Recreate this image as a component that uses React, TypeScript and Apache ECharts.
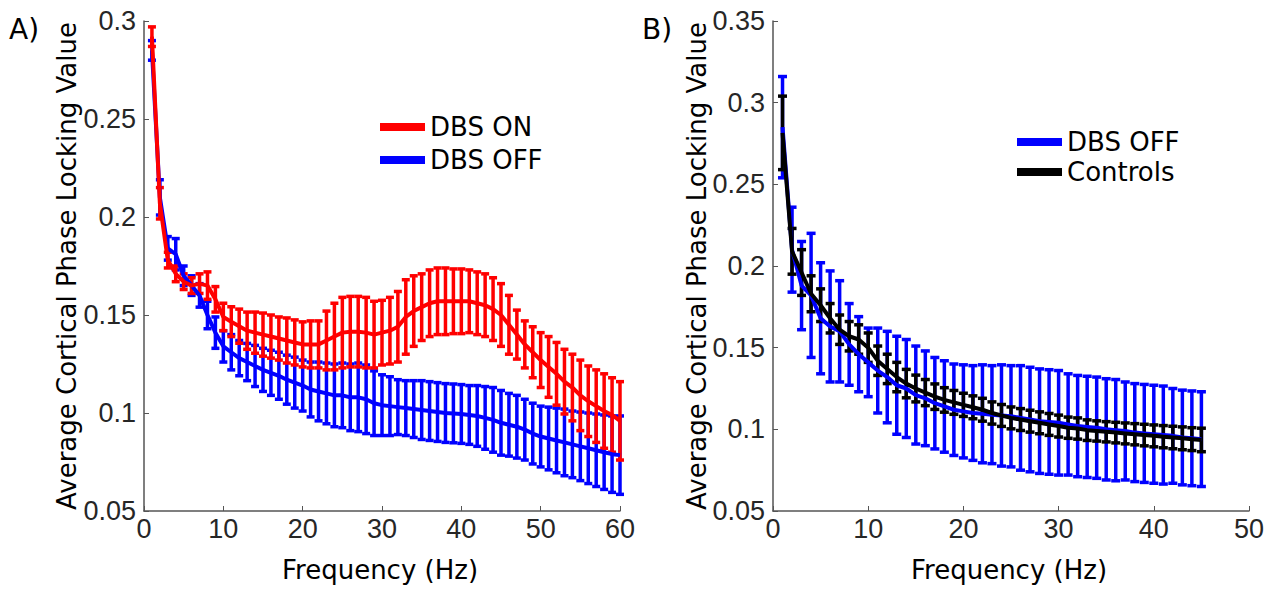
import React, { useEffect, useRef } from "react";
import * as echarts from "echarts";

const freqA = [1,2,3,4,5,6,7,8,9,10,11,12,13,14,15,16,17,18,19,20,21,22,23,24,25,26,27,28,29,30,31,32,33,34,35,36,37,38,39,40,41,42,43,44,45,46,47,48,49,50,51,52,53,54,55,56,57,58,59,60];
const dbsOnMeanA = [0.292,0.207,0.178,0.171,0.167,0.165,0.166,0.165,0.158,0.149,0.1466,0.1443,0.142,0.141,0.140,0.139,0.138,0.137,0.136,0.135,0.135,0.135,0.137,0.139,0.141,0.1415,0.1415,0.141,0.140,0.141,0.142,0.144,0.149,0.152,0.154,0.156,0.157,0.157,0.157,0.157,0.157,0.156,0.155,0.153,0.150,0.145,0.140,0.135,0.131,0.127,0.1235,0.120,0.116,0.113,0.109,0.106,0.1035,0.101,0.099,0.096];
const dbsOnErrA = [0.005,0.008,0.004,0.004,0.004,0.004,0.005,0.007,0.0065,0.007,0.0076,0.0087,0.0095,0.0105,0.011,0.011,0.011,0.0115,0.0115,0.0115,0.012,0.012,0.015,0.017,0.018,0.018,0.018,0.018,0.017,0.0165,0.017,0.018,0.019,0.018,0.017,0.017,0.017,0.017,0.0165,0.0165,0.016,0.016,0.016,0.016,0.016,0.015,0.0125,0.012,0.013,0.014,0.0155,0.016,0.0165,0.017,0.018,0.018,0.0185,0.019,0.019,0.020];
const dbsOffMeanA = [0.285,0.210,0.184,0.181,0.170,0.165,0.160,0.150,0.141,0.134,0.131,0.128,0.126,0.124,0.122,0.1205,0.119,0.117,0.1155,0.114,0.112,0.111,0.110,0.109,0.109,0.108,0.108,0.107,0.105,0.104,0.1035,0.103,0.1025,0.102,0.1015,0.101,0.1005,0.100,0.0998,0.0995,0.099,0.0985,0.0975,0.0965,0.095,0.094,0.093,0.0915,0.0895,0.088,0.087,0.086,0.085,0.084,0.083,0.082,0.081,0.080,0.079,0.0785];
const dbsOffErrA = [0.005,0.009,0.006,0.008,0.005,0.005,0.006,0.007,0.008,0.008,0.009,0.009,0.0095,0.0105,0.011,0.0115,0.012,0.0125,0.013,0.013,0.014,0.015,0.0155,0.016,0.0165,0.017,0.0175,0.0175,0.0165,0.0155,0.015,0.014,0.014,0.0145,0.015,0.015,0.015,0.015,0.015,0.015,0.015,0.0155,0.016,0.0165,0.0165,0.016,0.016,0.0155,0.0155,0.0155,0.016,0.0165,0.017,0.017,0.0175,0.018,0.0185,0.019,0.0195,0.020];

const freqB = [1,2,3,4,5,6,7,8,9,10,11,12,13,14,15,16,17,18,19,20,21,22,23,24,25,26,27,28,29,30,31,32,33,34,35,36,37,38,39,40,41,42,43,44,45];
const dbsOffMeanB = [0.285,0.210,0.188,0.182,0.168,0.163,0.160,0.152,0.146,0.141,0.136,0.132,0.127,0.125,0.121,0.119,0.116,0.114,0.112,0.111,0.110,0.1095,0.109,0.1085,0.108,0.107,0.106,0.105,0.1045,0.104,0.103,0.102,0.1015,0.101,0.100,0.0995,0.099,0.098,0.0975,0.097,0.0965,0.096,0.095,0.0945,0.094];
const dbsOffErrB = [0.031,0.026,0.027,0.038,0.034,0.034,0.031,0.025,0.023,0.021,0.026,0.028,0.030,0.030,0.030,0.029,0.028,0.028,0.028,0.0285,0.029,0.030,0.030,0.031,0.031,0.032,0.032,0.032,0.032,0.032,0.031,0.031,0.031,0.031,0.031,0.031,0.030,0.030,0.030,0.030,0.030,0.029,0.029,0.029,0.029];
const controlsMeanB = [0.2815,0.209,0.196,0.183,0.176,0.168,0.161,0.157,0.155,0.150,0.142,0.137,0.132,0.128,0.125,0.1225,0.120,0.118,0.1165,0.115,0.1135,0.112,0.110,0.1085,0.107,0.106,0.105,0.104,0.103,0.102,0.101,0.1005,0.0995,0.099,0.0985,0.098,0.0975,0.097,0.0965,0.096,0.0955,0.095,0.0945,0.094,0.0935];
const controlsErrB = [0.0225,0.014,0.014,0.011,0.010,0.009,0.009,0.009,0.009,0.009,0.009,0.009,0.009,0.0087,0.0082,0.008,0.0078,0.0075,0.0073,0.0071,0.007,0.007,0.0068,0.0067,0.0067,0.0067,0.0067,0.0067,0.0067,0.0067,0.0065,0.0065,0.0063,0.0062,0.0062,0.0063,0.0064,0.0065,0.0066,0.0067,0.0068,0.0069,0.007,0.007,0.0072];

const yTitle = "Average Cortical Phase Locking Value";
const xTitle = "Frequency (Hz)";

const RED = "#ff0000";
const BLUE = "#0000ff";
const BLACK = "#000000";
const TITLE_FONT = "'DejaVu Sans', Verdana, sans-serif";
const TICK_FONT = "'Liberation Sans', Arial, sans-serif";

function errData(freq: number[], mean: number[], err: number[]) {
  return freq.map((f, i) => [f, mean[i] - err[i], mean[i] + err[i]]);
}
function lineData(freq: number[], mean: number[]) {
  return freq.map((f, i) => [f, mean[i]]);
}

function errSeries(name: string, idx: number, data: number[][], color: string, hw: number, lw: number) {
  return {
    type: "custom",
    name,
    xAxisIndex: idx,
    yAxisIndex: idx,
    data,
    encode: { x: 0, y: [1, 2] },
    silent: true,
    renderItem: (params: any, api: any) => {
      const x = api.value(0);
      const lo = api.coord([x, api.value(1)]);
      const hi = api.coord([x, api.value(2)]);
      const style = { stroke: color, lineWidth: lw };
      return {
        type: "group",
        children: [
          { type: "line", shape: { x1: lo[0], y1: lo[1], x2: hi[0], y2: hi[1] }, style },
          { type: "line", shape: { x1: lo[0] - hw, y1: lo[1], x2: lo[0] + hw, y2: lo[1] }, style },
          { type: "line", shape: { x1: hi[0] - hw, y1: hi[1], x2: hi[0] + hw, y2: hi[1] }, style },
        ],
      };
    },
  };
}

function meanSeries(name: string, idx: number, data: number[][], color: string) {
  return {
    type: "line",
    name,
    xAxisIndex: idx,
    yAxisIndex: idx,
    data,
    showSymbol: false,
    symbol: "none",
    silent: true,
    lineStyle: { color, width: 4 },
    itemStyle: { color },
  };
}

const axisCommon = {
  axisLine: { show: true, onZero: false, lineStyle: { color: "#555555", width: 1.5 } },
  axisTick: { show: true, inside: true, length: 5, lineStyle: { color: "#555555", width: 1 } },
  splitLine: { show: false },
};

const tickLabel = { color: "#262626", fontSize: 27, fontFamily: TICK_FONT };

export default function App() {
  const ref = useRef<HTMLDivElement>(null);
  useEffect(() => {
    if (!ref.current) return;
    const chart = echarts.init(ref.current, null, { renderer: "svg" });
    const yFmt = (v: number) => String(parseFloat(v.toFixed(2)));
    const option: any = {
      animation: false,
      backgroundColor: "#ffffff",
      grid: [
        { left: 144, top: 21, width: 476, height: 490 },
        { left: 773, top: 21, width: 476, height: 490 },
      ],
      xAxis: [
        { ...axisCommon, type: "value", gridIndex: 0, min: 0, max: 60, interval: 10,
          axisLabel: { ...tickLabel, margin: 4 } },
        { ...axisCommon, type: "value", gridIndex: 1, min: 0, max: 50, interval: 10,
          axisLabel: { ...tickLabel, margin: 4 } },
      ],
      yAxis: [
        { ...axisCommon, type: "value", gridIndex: 0, min: 0.05, max: 0.3, interval: 0.05,
          axisLabel: { ...tickLabel, margin: 8, formatter: yFmt } },
        { ...axisCommon, type: "value", gridIndex: 1, min: 0.05, max: 0.35, interval: 0.05,
          axisLabel: { ...tickLabel, margin: 8, formatter: yFmt } },
      ],
      legend: [
        {
          data: ["DBS ON", "DBS OFF"], orient: "vertical", left: 380, top: 111, padding: 0,
          icon: "rect", itemWidth: 45, itemHeight: 8, itemGap: 1, selectedMode: false,
          textStyle: { fontSize: 26, fontFamily: TITLE_FONT, color: "#000", lineHeight: 32 },
        },
        {
          data: [
            { name: "DBS OFF", itemStyle: { color: BLUE } },
            { name: "Controls", itemStyle: { color: BLACK } },
          ],
          orient: "vertical", left: 1017, top: 127, padding: 0,
          icon: "rect", itemWidth: 45, itemHeight: 8, itemGap: 0, selectedMode: false,
          textStyle: { fontSize: 26, fontFamily: TITLE_FONT, color: "#000", lineHeight: 30 },
        },
      ],
      graphic: [
        { type: "text", left: 9, top: 15, style: { text: "A)", fontSize: 28, fontFamily: TITLE_FONT, fill: "#000" } },
        { type: "text", left: 642, top: 15, style: { text: "B)", fontSize: 28, fontFamily: TITLE_FONT, fill: "#000" } },
        { type: "text", x: 67, y: 266, rotation: Math.PI / 2,
          style: { text: yTitle, fontSize: 26, fontFamily: TITLE_FONT, fill: "#000", align: "center", verticalAlign: "middle" } },
        { type: "text", x: 697, y: 266, rotation: Math.PI / 2,
          style: { text: yTitle, fontSize: 26, fontFamily: TITLE_FONT, fill: "#000", align: "center", verticalAlign: "middle" } },
        { type: "text", x: 380, y: 570,
          style: { text: xTitle, fontSize: 26, fontFamily: TITLE_FONT, fill: "#000", align: "center", verticalAlign: "middle" } },
        { type: "text", x: 1009, y: 570,
          style: { text: xTitle, fontSize: 26, fontFamily: TITLE_FONT, fill: "#000", align: "center", verticalAlign: "middle" } },
      ],
      series: [
        errSeries("DBS OFF err A", 0, errData(freqA, dbsOffMeanA, dbsOffErrA), BLUE, 4, 3.5),
        meanSeries("DBS OFF", 0, lineData(freqA, dbsOffMeanA), BLUE),
        errSeries("DBS ON err A", 0, errData(freqA, dbsOnMeanA, dbsOnErrA), RED, 4, 3.5),
        meanSeries("DBS ON", 0, lineData(freqA, dbsOnMeanA), RED),
        errSeries("DBS OFF err B", 1, errData(freqB, dbsOffMeanB, dbsOffErrB), BLUE, 4.5, 3.5),
        meanSeries("DBS OFF", 1, lineData(freqB, dbsOffMeanB), BLUE),
        errSeries("Controls err B", 1, errData(freqB, controlsMeanB, controlsErrB), BLACK, 4.5, 3.5),
        meanSeries("Controls", 1, lineData(freqB, controlsMeanB), BLACK),
      ],
    };
    chart.setOption(option);
    return () => chart.dispose();
  }, []);
  return (
    <div
      ref={ref}
      style={{ position: "fixed", left: 0, top: 0, width: 1271, height: 590, background: "#fff" }}
    />
  );
}
